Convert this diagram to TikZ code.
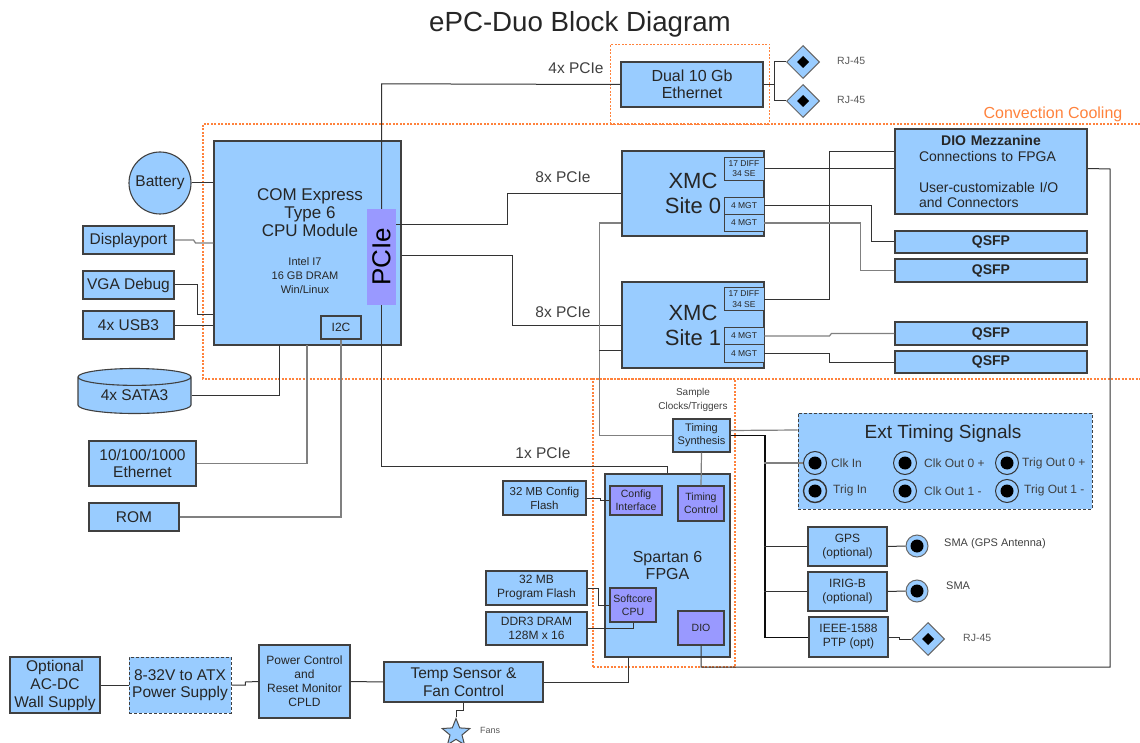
\documentclass[tikz,border=0pt]{standalone}
\usepackage{graphicx}
\usepackage{fontspec}
\setmainfont{Liberation Sans}
\usetikzlibrary{arrows.meta,positioning,shapes.geometric}
\definecolor{boxblue}{RGB}{153,204,255}
\definecolor{coreviolet}{RGB}{153,153,255}
\definecolor{zoneorange}{RGB}{255,130,60}
\newcommand{\fsz}[1]{\fontsize{#1}{#1}\selectfont}
\newcommand{\fln}[2]{\fontsize{#1}{#2}\selectfont}

\begin{document}
\begin{tikzpicture}[
  x=1pt,y=-1pt,
  block/.style={draw=black!75,line width=1.1pt,fill=boxblue,align=center,
    inner sep=0pt,text=black!85,font=\fln{15.5}{17.5}},
  smallblock/.style={block,font=\fln{12}{14}},
  core/.style={block,fill=coreviolet,font=\fln{10.5}{13}},
  lane/.style={block,line width=.9pt,font=\fln{8.5}{10.5}},
  dashblock/.style={block,densely dashed,line width=.9pt},
  zone/.style={draw=zoneorange,dash pattern=on 2pt off 1.5pt,line width=1.2pt},
  wire/.style={draw=black!80,line width=1pt},
  graywire/.style={draw=black!50,line width=1.2pt},
  heavywire/.style={draw=black!95,line width=1.9pt},
  note/.style={text=black!75,inner sep=0pt,font=\fsz{15.5}},
  port/.style={text=black!75,inner sep=0pt,anchor=west,font=\fsz{12}},
  tag/.style={text=black!65,inner sep=0pt,anchor=west,font=\fsz{10.5}},
  jack/.style={circle,draw=black!80,line width=1pt,fill=boxblue,minimum size=23pt,
    inner sep=0pt,path picture={\fill[black] (path picture bounding box.center) circle (6.5pt);}},
  rjport/.style={diamond,draw=black!60,line width=1pt,fill=boxblue,minimum size=33pt,
    inner sep=0pt,path picture={\fill[black] ([yshift=6pt]path picture bounding box.center)
      -- ++(6pt,-6pt) -- ++(-6pt,-6pt) -- ++(-6pt,6pt) -- cycle;}}
]
\useasboundingbox (0,0) rectangle (1140,743);
\node[inner sep=0pt,font=\fsz{27.7},text=black!85] (title) at (580,24.5) {ePC-Duo Block Diagram};
% cooling zones
\draw[zone] (1140,124) -| (203,379) -- (1140,379);
\node[inner sep=0pt,font=\fsz{16},text=zoneorange] (cooling) at (1053,114) {Convection Cooling};
\node[zone,minimum width=159pt,minimum height=80pt] (ethzone) at (690,84.5) {};
\node[zone,minimum width=142pt,minimum height=288pt] (fpgazone) at (664,523) {};
% CPU side
\node[block,minimum width=187pt,minimum height=204pt] (com) at (307.5,243) {};
\node[inner sep=0pt,align=center,text=black!85,font=\fln{17}{18}] (comname) at (310,213) {COM Express\\Type 6\\CPU Module};
\node[inner sep=0pt,align=center,text=black!85,font=\fln{11}{14}] (comspec) at (305,276) {Intel I7\\16 GB DRAM\\Win/Linux};
\node[fill=coreviolet,inner sep=0pt,minimum width=29pt,minimum height=96pt] (pcie) at (381.5,257) {\rotatebox{90}{\fsz{26}PCIe}};
\node[smallblock,minimum width=40pt,minimum height=23pt] (i2c) at (341,327.5) {I2C};
\node[block,circle,minimum size=62pt] (battery) at (160,183) {Battery};
\node[block,minimum width=91pt,minimum height=28pt] (dp) at (128.5,240) {Displayport};
\node[block,minimum width=91pt,minimum height=28pt] (vga) at (128.5,285) {VGA Debug};
\node[block,minimum width=91pt,minimum height=28pt] (usb) at (128.5,325) {4x USB3};
\node[block,cylinder,shape border rotate=90,aspect=0.25,cylinder uses custom fill,
  cylinder body fill=boxblue,cylinder end fill=boxblue,minimum width=113pt,minimum height=45pt] (sata) at (134.5,395.5) {4x SATA3};
\node[block,minimum width=107pt,minimum height=45pt] (lan) at (142.5,463.5) {10/100/1000\\Ethernet};
\node[block,minimum width=90pt,minimum height=28pt] (rom) at (134,517) {ROM};
% XMC sites
\node[block,minimum width=142pt,minimum height=45pt,font=\fln{16}{17.5}] (dualeth) at (692,84.5) {Dual 10 Gb\\Ethernet};
\node[rjport] (rja) at (803,62) {};
\node[rjport] (rjb) at (803,101) {};
\node[tag] (rjatag) at (837,61) {RJ-45};
\node[tag] (rjbtag) at (837,100) {RJ-45};
\node[block,minimum width=142pt,minimum height=85pt,font=\fln{22}{25}] (xmc0) at (693,193.5) {XMC\\Site 0};
\node[block,minimum width=142pt,minimum height=86pt,font=\fln{22}{25}] (xmc1) at (693,325) {XMC\\Site 1};
\node[lane,minimum width=40pt,minimum height=23pt] (diff0) at (744,168.5) {17 DIFF\\34 SE};
\node[lane,minimum width=40pt,minimum height=17.5pt] (mgt0a) at (744,206) {4 MGT};
\node[lane,minimum width=40pt,minimum height=17.5pt] (mgt0b) at (744,223) {4 MGT};
\node[lane,minimum width=40pt,minimum height=23pt] (diff1) at (744,299) {17 DIFF\\34 SE};
\node[lane,minimum width=40pt,minimum height=17.5pt] (mgt1a) at (744,336) {4 MGT};
\node[lane,minimum width=40pt,minimum height=17.5pt] (mgt1b) at (744,353.5) {4 MGT};
\node[block,minimum width=192pt,minimum height=85pt,text width=144pt,align=left,font=\fln{14}{15.5}] (dio) at (991,171.5)
  {\makebox[\linewidth]{\textbf{DIO Mezzanine}}\\Connections to FPGA\\[15.5pt]User-customizable I/O\\and Connectors};
\node[block,minimum width=192pt,minimum height=22pt,font=\bfseries\fsz{14}] (qsfp1) at (991,242) {QSFP};
\node[block,minimum width=192pt,minimum height=23pt,font=\bfseries\fsz{14}] (qsfp2) at (991,270.5) {QSFP};
\node[block,minimum width=192pt,minimum height=23pt,font=\bfseries\fsz{14}] (qsfp3) at (991,333.5) {QSFP};
\node[block,minimum width=192pt,minimum height=22pt,font=\bfseries\fsz{14}] (qsfp4) at (991,362) {QSFP};
% FPGA
\node[block,minimum width=125pt,minimum height=183pt,font=\fln{16}{17.5}] (fpga) at (667.5,565.5) {Spartan 6\\FPGA};
\node[smallblock,minimum width=57pt,minimum height=33pt,font=\fln{11}{13}] (synth) at (701.5,435.5) {Timing\\Synthesis};
\node[core,minimum width=52pt,minimum height=29pt] (cfgif) at (636,500.5) {Config\\Interface};
\node[core,minimum width=46pt,minimum height=35pt] (tctl) at (701,503.5) {Timing\\Control};
\node[core,minimum width=46pt,minimum height=34pt] (cpu) at (633,605) {Softcore\\CPU};
\node[core,minimum width=46pt,minimum height=34pt] (fdio) at (701,628) {DIO};
\node[smallblock,minimum width=83pt,minimum height=34pt,font=\fln{11.5}{14}] (cfgflash) at (544.5,498) {32 MB Config\\Flash};
\node[smallblock,minimum width=101pt,minimum height=34pt] (pflash) at (536.5,588) {32 MB\\Program Flash};
\node[smallblock,minimum width=101pt,minimum height=33pt] (ddr) at (536.5,628.5) {DDR3 DRAM\\128M x 16};
\node[note,font=\fln{10}{14},align=center] (sample) at (693,400) {Sample\\Clocks/Triggers};
% timing
\node[dashblock,minimum width=294pt,minimum height=96pt] (ext) at (945,461) {};
\node[inner sep=0pt,font=\fsz{19},text=black!85] (exttitle) at (943,434) {Ext Timing Signals};
\node[jack] (clkin) at (815,463) {};
\node[jack,line width=1.4pt] (trigin) at (815,491) {};
\node[jack] (clka) at (905,463) {};
\node[jack] (clkb) at (905,491) {};
\node[jack] (triga) at (1007,463) {};
\node[jack] (trigb) at (1007,491) {};
\node[port] (clkinlbl) at (831,463) {Clk In};
\node[port] (triginlbl) at (833,490) {Trig In};
\node[port] (clkalbl) at (924,463) {Clk Out 0 +};
\node[port] (clkblbl) at (924,491) {Clk Out 1 -};
\node[port] (trigalbl) at (1022,463) {Trig Out 0 +};
\node[port] (trigblbl) at (1024,490) {Trig Out 1 -};
\node[smallblock,minimum width=79pt,minimum height=39pt] (gps) at (847.5,546.5) {GPS\\(optional)};
\node[smallblock,minimum width=79pt,minimum height=39pt] (irig) at (847.5,591.5) {IRIG-B\\(optional)};
\node[smallblock,minimum width=79pt,minimum height=40pt] (ptp) at (848.5,637) {IEEE-1588\\PTP (opt)};
\node[jack,draw=black!60,minimum size=22pt] (smaa) at (917,546) {};
\node[jack,draw=black!60,minimum size=22pt] (smab) at (917,591) {};
\node[rjport] (rjc) at (928,639) {};
\node[port,font=\fsz{11}] (smaatag) at (944,544) {SMA (GPS Antenna)};
\node[port,font=\fsz{11}] (smabtag) at (946,586) {SMA};
\node[tag] (rjctag) at (963,638) {RJ-45};
% power chain
\node[block,minimum width=90pt,minimum height=56pt,font=\fln{15.5}{18}] (wall) at (55,685) {Optional\\AC-DC\\Wall Supply};
\node[dashblock,minimum width=102pt,minimum height=56pt,font=\fln{15.5}{17.5}] (atx) at (180,685) {8-32V to ATX\\Power Supply};
\node[smallblock,minimum width=91pt,minimum height=73pt] (cpld) at (304.5,681.5) {Power Control\\and\\Reset Monitor\\CPLD};
\node[block,minimum width=159pt,minimum height=40pt] (temp) at (463.5,682) {Temp Sensor \&\\Fan Control};
\node[star,star points=5,star point ratio=2.3,draw=black!70,line width=1pt,fill=boxblue,
  inner sep=0pt,minimum size=29pt] (fans) at (456,733) {};
\node[tag,font=\fsz{9}] (fanstag) at (480,730) {Fans};
% link labels
\node[note] (lnk4x) at (576,68) {4x PCIe};
\node[note] (lnk8a) at (563,177) {8x PCIe};
\node[note] (lnk8b) at (563,312) {8x PCIe};
\node[note] (lnk1x) at (543,453) {1x PCIe};
% connectors
\draw[wire] (pcie.north) -- ++(0,-125) -- (dualeth.west);
\draw[wire] (pcie.south) -- ++(0,161) -| (fpga.north);
\draw[wire] ([yshift=32pt]pcie.east) -- ++(111,0) |- (xmc0.west);
\draw[wire] ([yshift=-13pt]com.east) -- ++(111,0) |- (xmc1.west);
\draw[wire] (dualeth.east) -- ++(11,0) |- (rja.west);
\draw[wire] (dualeth.east) -- ++(11,0) |- (rjb.west);
\draw[wire] (battery.east) -- (com.west |- battery.east);
\draw[graywire] (dp.east) -- ++(19,0) -- ++(2,3) -- (com.west |- 0,243);
\draw[wire] (vga.east) -- ++(23,0) |- (com.west |- 0,314);
\draw[wire] (usb.east) -- (com.west |- usb.east);
\draw[wire] (sata.east) -| (279,345);
\draw[graywire] (lan.east) -| (307,345);
\draw[graywire] (rom.east) -| (i2c.south);
\draw[wire] (diff0.east) -- (dio.west |- diff0.east);
\draw[wire] (diff1.east) -- ++(65,0) |- ([yshift=19.5pt]dio.west);
\draw[wire] (mgt0a.east) -- ++(107,0) |- (qsfp1.west);
\draw[graywire] (mgt0b.east) -- ++(96,0) |- (qsfp2.west);
\draw[graywire] (mgt1a.east) -- ++(65,0) -- ++(2,-2.5) -- (qsfp3.west);
\draw[wire] (mgt1b.east) -- ++(65,0) |- (qsfp4.west);
\draw[wire] (dio.east |- diff0.east) -- (1110,169) |- (fdio.south |- 0,667) -- (fdio.south);
\draw[graywire] ([yshift=-29.5pt]xmc0.west) -- ++(-22,0) |- (synth.west);
\draw[wire] ([yshift=-25pt]xmc1.west) -- ++(-22,0);
\draw[graywire] (synth.south) -- (tctl.north);
\draw[graywire] ([yshift=5pt]synth.east) -- (ext.west |- 0,430);
\draw[heavywire] (synth.east) -- ++(34,0) |- ([yshift=-0.5pt]ptp.west);
\draw[graywire] (764,463) -- (clkin.west);
\draw[wire] (764,546.5) -- (gps.west);
\draw[wire] (764,591.5) -- (irig.west);
\draw[wire] (gps.east) -- (smaa.west);
\draw[wire] (irig.east) -- (smab.west);
\draw[wire] (ptp.east) -- ++(11,0) -- ++(0,2) -- (rjc.west);
\draw[wire] (cfgflash.east) -- ++(14,0) -- ++(0,2.5) -- (cfgif.west);
\draw[wire] (pflash.east) -- ++(11,0) |- (cpu.west);
\draw[wire] (ddr.east) -| (cpu.south);
\draw[wire] (wall.east) -- (atx.west);
\draw[wire] (atx.east) -- ++(14,0) -- ++(0,-3) -- (cpld.west);
\draw[wire] (cpld.east) -- (temp.west);
\draw[wire] (temp.east) -| (628,657);
\draw[wire] (temp.south) -- ++(0,8) -| (fans.north);
\end{tikzpicture}
\end{document}
